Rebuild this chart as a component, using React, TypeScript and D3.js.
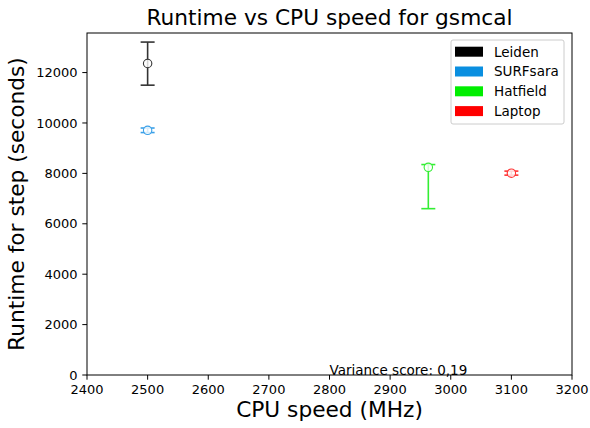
import React from "react";
import * as d3 from "d3";

const sites = ["Leiden", "SURFsara", "Hatfield", "Laptop"];
const cpuSpeed = [2500, 2500, 2963, 3100];
const runtime = [12360, 9710, 8240, 8010];
const errLow = [860, 90, 1640, 80];
const errHigh = [850, 90, 110, 80];
const legendColors = ["#000000", "#0a8fe0", "#00ee00", "#ff0000"];
const barColors = ["#333333", "#3aa0e8", "#33ee33", "#ff3333"];
const xTicks = [2400, 2500, 2600, 2700, 2800, 2900, 3000, 3100, 3200];
const yTicks = [0, 2000, 4000, 6000, 8000, 10000, 12000];
const varianceText = "Variance score: 0,19";
const varianceAt = [2800, 0];

const W = 590, H = 428;
const M = { left: 87, right: 572, top: 33, bottom: 375 };
const font = "DejaVu Sans, sans-serif";
const tickFs = 13;

export default function App() {
  const x = d3.scaleLinear().domain([2400, 3200]).range([M.left, M.right]);
  const y = d3.scaleLinear().domain([0, 13570]).range([M.bottom, M.top]);
  return (
    <svg width={W} height={H} style={{ position: "absolute", left: 0, top: 0, background: "#fff" }} fontFamily={font}>
      <rect x={0} y={0} width={W} height={H} fill="#fff" />
      <text x={(M.left + M.right) / 2} y={25} textAnchor="middle" fontSize={21.7}>Runtime vs CPU speed for gsmcal</text>
      {sites.map((s, i) => {
        const cx = x(cpuSpeed[i]);
        const c = barColors[i];
        const yt = y(runtime[i] + errHigh[i]);
        const yb = y(runtime[i] - errLow[i]);
        return (
          <g key={s}>
            <line x1={cx} x2={cx} y1={yt} y2={yb} stroke={c} strokeWidth={1.6} />
            <line x1={cx - 7} x2={cx + 7} y1={yt} y2={yt} stroke={c} strokeWidth={1.6} />
            <line x1={cx - 7} x2={cx + 7} y1={yb} y2={yb} stroke={c} strokeWidth={1.6} />
            <circle cx={cx} cy={y(runtime[i])} r={4.2} fill="#fff" fillOpacity={0.8} stroke={c} strokeWidth={1.1} />
          </g>
        );
      })}
      <text x={x(varianceAt[0])} y={y(varianceAt[1])} fontSize={13.5}>{varianceText}</text>
      <rect x={M.left} y={M.top} width={M.right - M.left} height={M.bottom - M.top} fill="none" stroke="#000" strokeWidth={1} />
      {xTicks.map((t) => (
        <g key={t}>
          <line x1={x(t)} x2={x(t)} y1={M.bottom} y2={M.bottom + 4.7} stroke="#000" />
          <text x={x(t)} y={M.bottom + 19} textAnchor="middle" fontSize={tickFs}>{t}</text>
        </g>
      ))}
      {yTicks.map((t) => (
        <g key={t}>
          <line x1={M.left - 4.7} x2={M.left} y1={y(t)} y2={y(t)} stroke="#000" />
          <text x={M.left - 9.5} y={y(t) + 4.7} textAnchor="end" fontSize={tickFs}>{t}</text>
        </g>
      ))}
      <text x={(M.left + M.right) / 2} y={417} textAnchor="middle" fontSize={21.7}>CPU speed (MHz)</text>
      <text transform={`translate(24, ${(M.top + M.bottom) / 2}) rotate(-90)`} textAnchor="middle" fontSize={21.7}>Runtime for step (seconds)</text>
      <g>
        <rect x={451} y={40} width={113} height={84} rx={2} fill="#fff" fillOpacity={0.8} stroke="#ccc" />
        {sites.map((s, i) => (
          <g key={s}>
            <rect x={455} y={46.7 + i * 19.8} width={28} height={10} fill={legendColors[i]} />
            <text x={494} y={56.5 + i * 19.8} fontSize={13.5}>{s}</text>
          </g>
        ))}
      </g>
    </svg>
  );
}
